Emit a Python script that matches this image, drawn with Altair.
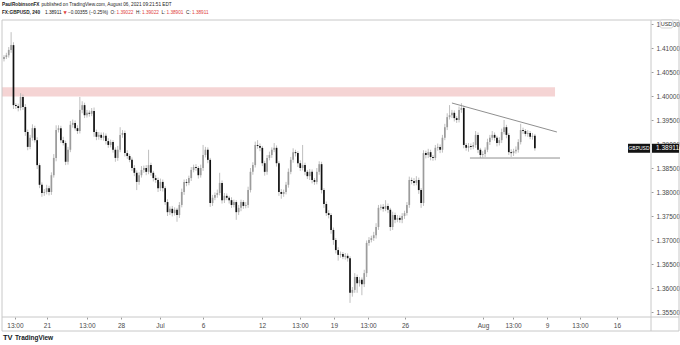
import altair as alt
import pandas as pd

# ---------------- data ----------------
first_open = 1.4077
closes = [
    1.4081, 1.4085, 1.4096, 1.4106, 1.3981, 1.3979, 1.3975, 1.3998, 1.3977, 1.3925,
    1.3894, 1.3913, 1.3933, 1.3908, 1.3856, 1.3815, 1.3798, 1.3800, 1.3808, 1.3800,
    1.3835, 1.3871, 1.3929, 1.3933, 1.3908, 1.3902, 1.3863, 1.3888, 1.3940, 1.3944,
    1.3933, 1.3927, 1.3971, 1.3981, 1.3960, 1.3965, 1.3963, 1.3969, 1.3925, 1.3915,
    1.3919, 1.3913, 1.3917, 1.3906, 1.3898, 1.3904, 1.3888, 1.3871, 1.3888, 1.3919,
    1.3923, 1.3881, 1.3875, 1.3867, 1.3850, 1.3840, 1.3821, 1.3835, 1.3846, 1.3850,
    1.3842, 1.3856, 1.3840, 1.3829, 1.3825, 1.3808, 1.3821, 1.3808, 1.3779, 1.3758,
    1.3765, 1.3756, 1.3763, 1.3752, 1.3773, 1.3800, 1.3821, 1.3819, 1.3829, 1.3846,
    1.3852, 1.3850, 1.3835, 1.3850, 1.3877, 1.3888, 1.3867, 1.3777, 1.3788, 1.3794,
    1.3798, 1.3819, 1.3783, 1.3792, 1.3788, 1.3783, 1.3773, 1.3779, 1.3758, 1.3767,
    1.3779, 1.3771, 1.3773, 1.3804, 1.3842, 1.3856, 1.3898, 1.3896, 1.3892, 1.3860,
    1.3842, 1.3871, 1.3877, 1.3888, 1.3892, 1.3860, 1.3800, 1.3796, 1.3800, 1.3815,
    1.3842, 1.3867, 1.3883, 1.3881, 1.3860, 1.3850, 1.3856, 1.3842, 1.3833, 1.3842,
    1.3825, 1.3821, 1.3842, 1.3858, 1.3804, 1.3775, 1.3756, 1.3752, 1.3721, 1.3700,
    1.3679, 1.3669, 1.3671, 1.3665, 1.3667, 1.3662, 1.3590, 1.3596, 1.3623, 1.3610,
    1.3617, 1.3608, 1.3631, 1.3694, 1.3700, 1.3704, 1.3710, 1.3727, 1.3767, 1.3769,
    1.3765, 1.3771, 1.3763, 1.3727, 1.3752, 1.3742, 1.3746, 1.3742, 1.3750, 1.3756,
    1.3773, 1.3825, 1.3823, 1.3819, 1.3825, 1.3804, 1.3777, 1.3881, 1.3877, 1.3883,
    1.3873, 1.3871, 1.3892, 1.3894, 1.3888, 1.3913, 1.3935, 1.3956, 1.3960, 1.3965,
    1.3954, 1.3950, 1.3971, 1.3975, 1.3898, 1.3892, 1.3896, 1.3894, 1.3898, 1.3919,
    1.3888, 1.3877, 1.3879, 1.3888, 1.3904, 1.3913, 1.3919, 1.3913, 1.3902, 1.3908,
    1.3925, 1.3935, 1.3919, 1.3883, 1.3881, 1.3885, 1.3888, 1.3904, 1.3929, 1.3927,
    1.3921, 1.3923, 1.3915, 1.3917, 1.38911,
]
upper_wick_pips = [
    4, 5, 6, 27, 6, 4, 5, 8, 5, 6,
    5, 6, 8, 5, 6, 4, 5, 6, 7, 5,
    6, 8, 10, 6, 5, 7, 5, 6, 8, 7,
    5, 6, 27, 8, 5, 6, 5, 6, 7, 5,
    6, 5, 7, 5, 6, 5, 4, 5, 8, 16,
    6, 5, 6, 4, 5, 6, 5, 6, 8, 5,
    6, 32, 5, 4, 6, 5, 7, 5, 4, 6,
    5, 6, 5, 4, 6, 7, 5, 6, 5, 6,
    5, 6, 4, 7, 21, 6, 5, 4, 6, 5,
    7, 21, 5, 6, 5, 4, 6, 5, 4, 6,
    5, 4, 6, 7, 8, 6, 7, 10, 5, 4,
    5, 6, 7, 5, 10, 5, 4, 6, 5, 6,
    7, 6, 8, 5, 4, 6, 42, 5, 4, 6,
    5, 4, 8, 6, 5, 4, 5, 6, 4, 5,
    4, 6, 5, 4, 6, 5, 4, 6, 8, 5,
    6, 5, 7, 5, 6, 5, 7, 8, 6, 5,
    6, 12, 5, 4, 7, 5, 6, 5, 6, 5,
    6, 7, 5, 6, 8, 5, 4, 6, 5, 7,
    5, 4, 6, 7, 5, 6, 7, 8, 21, 6,
    5, 4, 7, 10, 5, 4, 6, 5, 6, 8,
    5, 4, 6, 5, 7, 6, 8, 5, 4, 6,
    7, 15, 5, 4, 6, 5, 7, 6, 13, 5,
    4, 6, 4, 6, 4,
]
lower_wick_pips = [
    5, 4, 5, 6, 8, 6, 7, 5, 6, 8,
    7, 5, 6, 5, 8, 7, 8, 6, 5, 7,
    6, 5, 7, 5, 6, 5, 7, 6, 5, 6,
    5, 6, 5, 7, 6, 5, 6, 5, 10, 7,
    6, 5, 6, 7, 6, 5, 6, 8, 6, 5,
    6, 7, 6, 5, 6, 7, 17, 6, 5, 6,
    7, 5, 6, 7, 6, 8, 6, 7, 6, 8,
    6, 7, 5, 14, 6, 5, 6, 7, 5, 6,
    5, 6, 7, 5, 6, 5, 7, 8, 6, 5,
    6, 5, 7, 6, 5, 7, 6, 5, 16, 6,
    7, 6, 5, 6, 5, 6, 5, 6, 7, 6,
    8, 6, 5, 6, 5, 7, 8, 10, 6, 5,
    6, 5, 6, 7, 8, 6, 5, 7, 6, 8,
    7, 6, 5, 6, 7, 8, 6, 7, 8, 10,
    7, 12, 6, 5, 6, 7, 21, 8, 6, 20,
    7, 23, 6, 8, 6, 5, 6, 7, 6, 5,
    6, 5, 7, 8, 6, 7, 5, 6, 7, 6,
    5, 6, 7, 6, 5, 8, 10, 6, 7, 6,
    7, 6, 5, 6, 7, 6, 5, 6, 5, 6,
    7, 6, 5, 6, 7, 6, 8, 6, 5, 6,
    7, 6, 5, 6, 5, 6, 5, 6, 7, 5,
    6, 5, 7, 6, 8, 6, 5, 6, 5, 6,
    5, 6, 5, 6, 5,
]

# time-axis labels (bar index where each label sits)
time_labels = ["13:00", "21", "13:00", "28", "Jul", "6", "12", "13:00", "19",
               "13:00", "26", "Aug", "13:00", "9", "13:00", "16"]
time_label_bars = [4.6, 18.1, 35.0, 49.4, 65.8, 84.0, 108.9, 124.9, 139.2,
                   153.6, 169.2, 202.1, 214.8, 229.1, 243.0, 258.6]
price_ticks = [1.355, 1.360, 1.365, 1.370, 1.375, 1.380, 1.385, 1.390,
               1.395, 1.400, 1.405, 1.410, 1.415]

# resistance zone and triangle
zone_bars = [-1.0, 232.5]
zone_prices = [1.3999, 1.4018]
tri_line = ["upper", "upper", "lower", "lower"]
tri_bars = [189.0, 233.3, 196.6, 234.6]
tri_prices = [1.39854, 1.39250, 1.38708, 1.38708]

last_price = 1.38911

# ---------------- tables ----------------
opens = [first_open] + closes[:-1]
rows = []
for i, (o, c, u, l) in enumerate(zip(opens, closes, upper_wick_pips, lower_wick_pips)):
    rows.append({
        "i": i, "open": o, "close": c,
        "high": max(o, c) + u * 0.0001,
        "low": min(o, c) - l * 0.0001,
        "dir": "up" if c >= o else "down",
    })
df = pd.DataFrame(rows)

# ---------------- layout ----------------
PL, PT = 2, 20          # plot origin in the page
W, H = 649, 297         # plot area
PR, PB = 680 - PL - W, 345 - PT - H
BAR_PX = 2.37
X0_PX = 2.0             # pixel (inside plot) of bar 0

xscale = alt.Scale(domain=[-X0_PX / BAR_PX, (W - X0_PX) / BAR_PX], nice=False, zero=False)
yscale = alt.Scale(domain=[1.42 - (PT + H) / 4800, 1.42 - PT / 4800], nice=False, zero=False)

FONT = "Liberation Sans"
AXIS_TXT = "#4a4a4a"
label_expr = " : ".join(
    f"datum.value == {b} ? '{t}'" for b, t in zip(time_label_bars, time_labels)
) + " : ''"

xaxis = alt.Axis(values=time_label_bars, labelExpr=label_expr, grid=False, domain=False,
                 ticks=True, tickSize=2, tickColor="#9a9a9a", labelFontSize=6.5,
                 labelColor=AXIS_TXT, labelFont=FONT, labelPadding=3, title=None,
                 labelFlush=False, labelOverlap=False)
# right-hand price axis: drawn by the axis itself, every label kept
yaxis = alt.Axis(orient="right", values=price_ticks, format=".5f", grid=False, domain=False,
                 ticks=True, tickSize=2, tickColor="#9a9a9a", labelFontSize=6.5,
                 labelColor=AXIS_TXT, labelFont=FONT, labelPadding=3, title=None,
                 labelFlush=False, labelOverlap=False, labelBound=False)


def Y(field):
    return alt.Y(field, scale=yscale, axis=yaxis)


X = alt.X("i:Q", scale=xscale, axis=xaxis)
base = alt.Chart(df)

wicks = base.mark_rule(color="#b8b8b8", strokeWidth=0.9).encode(
    x=X, y=Y("low:Q"), y2="high:Q")
bodies = base.mark_rule(strokeWidth=1.7).encode(
    x=X, y=Y("open:Q"), y2="close:Q",
    color=alt.Color("dir:N", scale=alt.Scale(domain=["up", "down"], range=["#9c9c9c", "#111111"]),
                    legend=None))

zone = alt.Chart(pd.DataFrame({"b1": [zone_bars[0]], "b2": [zone_bars[1]],
                               "p1": [zone_prices[0]], "p2": [zone_prices[1]]})).mark_rect(
    color="#f5d4d4", clip=True).encode(x=alt.X("b1:Q", scale=xscale, axis=xaxis), x2="b2:Q",
                                       y=Y("p1:Q"), y2="p2:Q")

tri = alt.Chart(pd.DataFrame({"line": tri_line, "b": tri_bars, "p": tri_prices})).mark_line(
    color="#8f8f8f", strokeWidth=1).encode(x=alt.X("b:Q", scale=xscale, axis=xaxis),
                                          y=Y("p:Q"), detail="line:N")

# last price label
lp = pd.DataFrame({"p": [last_price]})
lp_box1 = alt.Chart(lp).mark_rect(color="#131313", yOffset=-4.5, y2Offset=4.5).encode(
    x=alt.value(W - 23), x2=alt.value(W - 1), y=Y("p:Q"), y2="p:Q")
lp_box2 = alt.Chart(lp).mark_rect(color="#131313", yOffset=-4.5, y2Offset=4.5).encode(
    x=alt.value(W + 1), x2=alt.value(W + 28), y=Y("p:Q"), y2="p:Q")
lp_t1 = alt.Chart(lp).mark_text(color="white", fontSize=5, font=FONT, align="center",
                                baseline="middle").encode(
    x=alt.value(W - 12), y=Y("p:Q"), text=alt.value("GBPUSD"))
lp_t2 = alt.Chart(lp).mark_text(color="white", fontSize=6.5, font=FONT, align="left",
                                baseline="middle").encode(
    x=alt.value(W + 5), y=Y("p:Q"), text=alt.Text("p:Q", format=".5f"))

# frame lines around the price and time scales
def hline(y, x1, x2, color="#c8c8c8"):
    return alt.Chart(pd.DataFrame({"k": [0]})).mark_rule(color=color, strokeWidth=1).encode(
        x=alt.value(x1), x2=alt.value(x2), y=alt.value(y))

def vline(x, y1, y2, color="#c8c8c8"):
    return alt.Chart(pd.DataFrame({"k": [0]})).mark_rule(color=color, strokeWidth=1).encode(
        x=alt.value(x), y=alt.value(y1), y2=alt.value(y2))

frame = [
    hline(0, 0, W + PR - 1), hline(H, 0, W + PR - 1), hline(H + 14, 0, W + PR - 1),
    vline(0, 0, H + 14), vline(W, 0, H + 14), vline(W + PR - 1, 0, H + 14),
]

# header / footer texts
def txt(s, x, y, color="#222222", bold=False, size=4.7, font=FONT):
    return alt.Chart(pd.DataFrame({"k": [0]})).mark_text(
        align="left", baseline="middle", font=font, fontSize=size,
        fontWeight="bold" if bold else "normal", color=color).encode(
        x=alt.value(x - PL), y=alt.value(y - PT), text=alt.value(s))

RED = "#e0413d"
texts = [
    txt("PaulRobinsonFX", 2, 5, bold=True),
    txt("published on TradingView.com, August 06, 2021 09:21:51 EDT", 41.5, 5),
    txt("FX:GBPUSD, 240", 2, 13, bold=True),
    txt("1.38911", 45, 13),
    txt("▼", 63.5, 13, color=RED, size=4.2, font="DejaVu Sans"),
    txt("−0.00355 (−0.25%)", 68, 13),
    txt("O:", 110.5, 13),
    txt("1.39022", 116.5, 13, color=RED),
    txt("H:", 136, 13),
    txt("1.39022", 142, 13, color=RED),
    txt("L:", 161.5, 13),
    txt("1.38901", 166.5, 13, color=RED),
    txt("C:", 186, 13),
    txt("1.38911", 192, 13, color=RED),
    txt("TV", 3, 338, bold=True, size=7.5, color="#131722"),
    txt("TradingView", 15, 338, bold=True, size=6.5, color="#131722"),
    txt("⊙", PL + W + 24, PT + 4, color="#9a9a9a", size=6, font="DejaVu Sans"),
]

# USD badge on top of the price scale
usd_box = alt.Chart(pd.DataFrame({"k": [0]})).mark_rect(
    fill="white", stroke="#c8c8c8", strokeWidth=0.8, cornerRadius=2).encode(
    x=alt.value(W + 9), x2=alt.value(W + 22), y=alt.value(0), y2=alt.value(8))
usd_txt = alt.Chart(pd.DataFrame({"k": [0]})).mark_text(
    font=FONT, fontSize=5.5, color="#333", align="center", baseline="middle").encode(
    x=alt.value(W + 15.5), y=alt.value(4), text=alt.value("USD"))

chart = alt.layer(
    zone, wicks, bodies, tri, *frame,
    lp_box1, lp_box2, lp_t1, lp_t2,
    usd_box, usd_txt, *texts
).properties(
    width=W, height=H,
    padding={"left": PL, "top": PT, "right": PR, "bottom": PB},
    autosize=alt.AutoSizeParams(type="none"),
    background="white",
).configure_view(stroke=None)

chart.save("out.html", embed_options={"renderer": "svg", "actions": False})
